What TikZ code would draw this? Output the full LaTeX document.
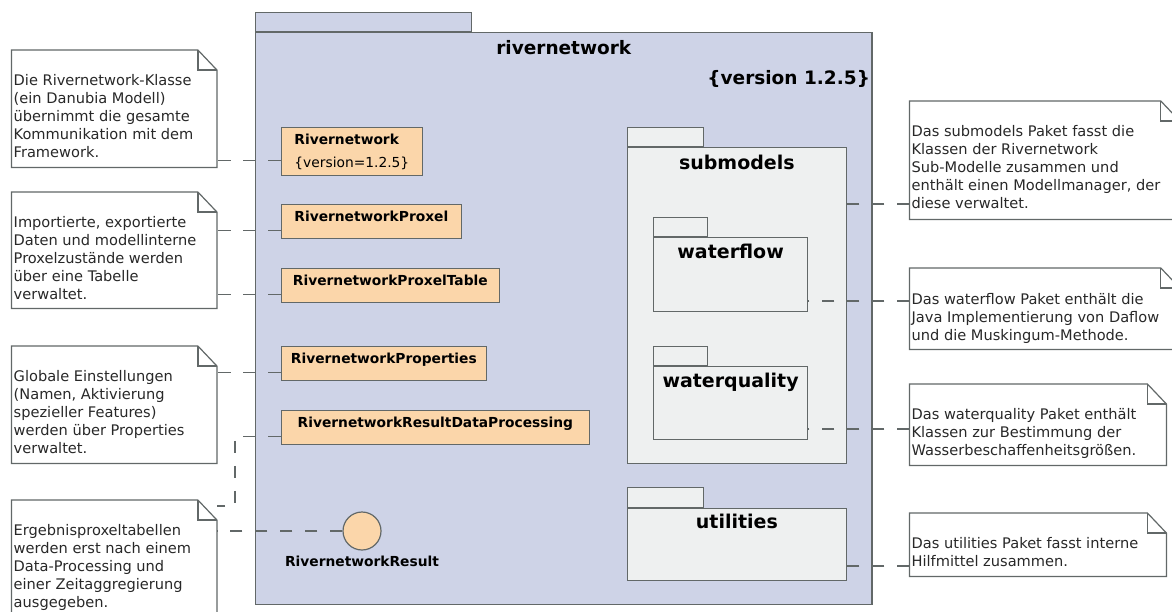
\documentclass[tikz,border=0pt]{standalone}
\usepackage{fontspec}
\setmainfont{DejaVu Sans}
\usepackage{tikz}
\usetikzlibrary{positioning,calc}
\definecolor{rivblue}{RGB}{206,211,231}
\definecolor{clsorange}{RGB}{251,214,170}
\definecolor{pkggray}{RGB}{238,240,240}
\definecolor{edgegray}{RGB}{98,104,104}
\definecolor{notegray}{RGB}{40,40,40}
\newcommand{\notefont}{\fontsize{14.6pt}{18pt}\selectfont}
\newcommand{\clsfont}{\fontsize{13.8pt}{17pt}\selectfont\bfseries}
\newcommand{\pkgfont}{\fontsize{19pt}{23pt}\selectfont\bfseries}
\newcommand{\ttlfont}{\fontsize{18.5pt}{22pt}\selectfont\bfseries}
\newcommand{\notefold}[1]{%
  \draw[umlline] (#1.north west) -- ([xshift=-19pt]#1.north east) -- ([yshift=-20pt]#1.north east) -- (#1.south east) -- (#1.south west) -- cycle;
  \draw[umlline] ([xshift=-19pt]#1.north east) |- ([yshift=-20pt]#1.north east);}

\begin{document}
\begin{tikzpicture}[x=1pt,y=-1pt,
  umlline/.style={draw=edgegray,line width=1.2pt},
  pkgpart/.style={umlline,inner sep=0pt,anchor=north west},
  pkgname/.style={font=\pkgfont,anchor=base,inner sep=0pt},
  clsbox/.style={umlline,fill=clsorange,font=\clsfont,inner sep=0pt,anchor=north west},
  clsrow/.style={clsbox,text height=17pt,text depth=16.5pt},
  notebox/.style={fill=white,inner sep=0pt,anchor=north west},
  notetext/.style={font=\notefont,text=notegray,align=left,inner sep=0pt,anchor=north west},
  conn/.style={umlline,dash pattern=on 12.5pt off 12.5pt}]
\path[use as bounding box,fill=white] (0,0) rectangle (1172,611);
% main package
\node[pkgpart,fill=rivblue,minimum width=216pt,minimum height=19pt] (rntab) at (255,12) {};
\node[pkgpart,fill=rivblue,minimum width=616.4pt,minimum height=572pt] (rn) at (rntab.south west) {};
\node[font=\ttlfont,anchor=base,inner sep=0pt] (rntitle) at ([yshift=-22pt]rn.north) {rivernetwork};
\node[font=\ttlfont,anchor=base east,inner sep=0pt] (rnver) at ([xshift=-2.5pt,yshift=-52pt]rn.north east) {\{version 1.2.5\}};
% classes
\node[clsbox,minimum width=141.5pt,minimum height=48pt,align=left] (rnc) at (280.5,127) {Rivernetwork\\[6pt]{\mdseries\{version=1.2.5\}}};
\node[clsrow,minimum width=180.5pt] (proxel) at (280.5,204) {RivernetworkProxel};
\node[clsrow,minimum width=218.5pt] (ptable) at (280.5,268) {RivernetworkProxelTable};
\node[clsrow,minimum width=205.5pt] (props) at (280.5,346) {RivernetworkProperties};
\node[clsrow,minimum width=308.5pt] (rdp) at (280.5,410) {RivernetworkResultDataProcessing};
% interface
\node[circle,umlline,fill=clsorange,minimum size=38pt,inner sep=0pt] (res) at (362,531) {};
\node[font=\clsfont,anchor=base,inner sep=0pt] (reslabel) at ([yshift=-15.5pt]res.south) {RivernetworkResult};
% sub packages
\node[pkgpart,fill=pkggray,minimum width=76pt,minimum height=19pt] (subtab) at (627,127) {};
\node[pkgpart,fill=pkggray,minimum width=218.5pt,minimum height=316pt] (sub) at (subtab.south west) {};
\node[pkgname] (subname) at ([yshift=-22pt]sub.north) {submodels};
\node[pkgpart,fill=pkggray,minimum width=54pt,minimum height=19pt] (wftab) at (653,217) {};
\node[pkgpart,fill=pkggray,minimum width=154pt,minimum height=74pt] (wf) at (wftab.south west) {};
\node[pkgname] (wfname) at ([yshift=-21pt]wf.north) {waterflow};
\node[pkgpart,fill=pkggray,minimum width=54pt,minimum height=19pt] (wqtab) at (653,346) {};
\node[pkgpart,fill=pkggray,minimum width=154pt,minimum height=73pt] (wq) at (wqtab.south west) {};
\node[pkgname] (wqname) at ([yshift=-21pt]wq.north) {waterquality};
\node[pkgpart,fill=pkggray,minimum width=76pt,minimum height=20pt] (uttab) at (627,487) {};
\node[pkgpart,fill=pkggray,minimum width=218.5pt,minimum height=72pt] (ut) at (uttab.south west) {};
\node[pkgname] (utname) at ([yshift=-20pt]ut.north) {utilities};
% notes left
\node[notebox,minimum width=205pt,minimum height=117pt] (n1) at (11.5,50) {}; \notefold{n1}
\node[notetext] (t1) at ([xshift=2pt,yshift=-24.5pt]n1.north west) {Die Rivernetwork-Klasse\\(ein Danubia Modell)\\übernimmt die gesamte\\Kommunikation mit dem\\Framework.};
\node[notebox,minimum width=205pt,minimum height=116pt] (n2) at (11.5,192) {}; \notefold{n2}
\node[notetext] (t2) at ([xshift=2pt,yshift=-24pt]n2.north west) {Importierte, exportierte\\Daten und modellinterne\\Proxelzustände werden\\über eine Tabelle\\verwaltet.};
\node[notebox,minimum width=205pt,minimum height=117pt] (n3) at (11.5,346) {}; \notefold{n3}
\node[notetext] (t3) at ([xshift=2pt,yshift=-24.5pt]n3.north west) {Globale Einstellungen\\(Namen, Aktivierung\\spezieller Features)\\werden über Properties\\verwaltet.};
\node[notebox,minimum width=205pt,minimum height=125pt] (n4) at (11.5,500) {}; \notefold{n4}
\node[notetext] (t4) at ([xshift=2pt,yshift=-24.5pt]n4.north west) {Ergebnisproxeltabellen\\werden erst nach einem\\Data-Processing und\\einer Zeitaggregierung\\ausgegeben.};
% notes right
\node[notebox,minimum width=270pt,minimum height=118pt] (n5) at (909.4,101) {}; \notefold{n5}
\node[notetext] (t5) at ([xshift=2pt,yshift=-24.5pt]n5.north west) {Das submodels Paket fasst die\\Klassen der Rivernetwork\\Sub-Modelle zusammen und\\enthält einen Modellmanager, der\\diese verwaltet.};
\node[notebox,minimum width=270pt,minimum height=81pt] (n6) at (909.4,268) {}; \notefold{n6}
\node[notetext] (t6) at ([xshift=2pt,yshift=-25pt]n6.north west) {Das waterflow Paket enthält die\\Java Implementierung von Daflow\\und die Muskingum-Methode.};
\node[notebox,minimum width=256.6pt,minimum height=81pt] (n7) at (909.4,384) {}; \notefold{n7}
\node[notetext] (t7) at ([xshift=2pt,yshift=-24.5pt]n7.north west) {Das waterquality Paket enthält\\Klassen zur Bestimmung der\\Wasserbeschaffenheitsgrößen.};
\node[notebox,minimum width=256.6pt,minimum height=63pt] (n8) at (909.4,513) {}; \notefold{n8}
\node[notetext] (t8) at ([xshift=2pt,yshift=-24.5pt]n8.north west) {Das utilities Paket fasst interne\\Hilfmittel zusammen.};
% anchors (dashed)
\draw[conn] ([yshift=-9pt]rnc.west) -- ($(n1.east |- rnc.west)+(0pt,-9pt)$);
\draw[conn] ([yshift=-9pt]proxel.west) -- ($(n2.east |- proxel.west)+(0pt,-9pt)$);
\draw[conn] ([yshift=-9pt]ptable.west) -- ($(n2.east |- ptable.west)+(0pt,-9pt)$);
\draw[conn] ([yshift=-9pt]props.west) -- ($(n3.east |- props.west)+(0pt,-9pt)$);
\coordinate (bend) at (235,506);
\draw[conn] ([yshift=-9pt]rdp.west) -| (bend) -- (n4.east |- bend);
\draw[conn] (res.west) -- (n4.east |- res.west);
\draw[conn] (n5.west |- 0,204) -- (sub.east |- 0,204);
\draw[conn] (n6.west |- 0,301) -- (wf.east |- 0,301);
\draw[conn] (n7.west |- 0,429) -- (wq.east |- 0,429);
\draw[conn] (n8.west |- 0,566) -- (ut.east |- 0,566);
\end{tikzpicture}
\end{document}
